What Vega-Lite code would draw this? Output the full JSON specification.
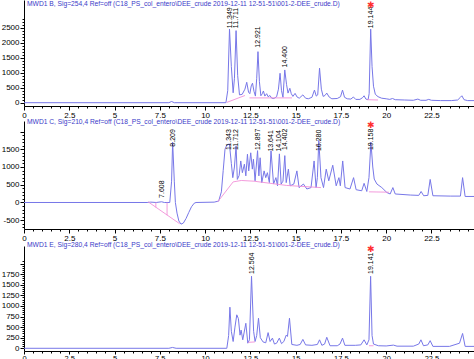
{
  "$schema": "https://vega.github.io/schema/vega-lite/v6.json",
  "padding": 0,
  "background": "white",
  "spacing": 0,
  "config": {
    "view": {"stroke": null},
    "font": "Liberation Sans",
    "axis": {"domainColor": "black", "tickColor": "black", "labelColor": "black", "labelFontSize": 8, "labelFont": "Liberation Sans", "grid": false, "title": null, "labelOverlap": false, "labelFlush": false},
    "title": {"fontSize": 6.7, "font": "Liberation Sans", "fontWeight": "normal", "color": "#3a3ac8", "anchor": "start", "frame": "group", "dx": 3}
  },
  "datasets": {
    "B": [
      {"t":0,"v":0},{"t":8.0,"v":0},{"t":8.15,"v":40},{"t":8.3,"v":0},{"t":11.15,"v":0},{"t":11.25,"v":400},{"t":11.349,"v":2450},{"t":11.45,"v":1200},{"t":11.55,"v":330},{"t":11.62,"v":800},{"t":11.711,"v":2400},{"t":11.8,"v":900},{"t":11.9,"v":260},{"t":12.05,"v":280},{"t":12.2,"v":450},{"t":12.3,"v":680},{"t":12.4,"v":350},{"t":12.47,"v":300},{"t":12.55,"v":560},{"t":12.62,"v":650},{"t":12.7,"v":380},{"t":12.78,"v":220},{"t":12.85,"v":800},{"t":12.921,"v":1700},{"t":13.0,"v":700},{"t":13.08,"v":230},{"t":13.16,"v":300},{"t":13.22,"v":390},{"t":13.3,"v":220},{"t":13.4,"v":300},{"t":13.48,"v":200},{"t":13.58,"v":240},{"t":13.68,"v":150},{"t":13.8,"v":140},{"t":13.95,"v":200},{"t":14.05,"v":450},{"t":14.14,"v":980},{"t":14.22,"v":400},{"t":14.3,"v":180},{"t":14.4,"v":1090},{"t":14.5,"v":600},{"t":14.58,"v":320},{"t":14.68,"v":480},{"t":14.76,"v":300},{"t":14.85,"v":210},{"t":14.97,"v":310},{"t":15.08,"v":190},{"t":15.2,"v":150},{"t":15.4,"v":260},{"t":15.55,"v":150},{"t":15.7,"v":130},{"t":15.9,"v":180},{"t":16.04,"v":420},{"t":16.14,"v":220},{"t":16.22,"v":260},{"t":16.32,"v":1150},{"t":16.42,"v":450},{"t":16.52,"v":210},{"t":16.62,"v":240},{"t":16.72,"v":320},{"t":16.85,"v":190},{"t":17.0,"v":130},{"t":17.3,"v":140},{"t":17.48,"v":200},{"t":17.59,"v":420},{"t":17.7,"v":180},{"t":17.85,"v":130},{"t":18.05,"v":120},{"t":18.19,"v":190},{"t":18.32,"v":110},{"t":18.55,"v":110},{"t":18.7,"v":170},{"t":18.78,"v":230},{"t":18.88,"v":120},{"t":19.0,"v":100},{"t":19.06,"v":300},{"t":19.144,"v":2450},{"t":19.22,"v":1200},{"t":19.3,"v":550},{"t":19.4,"v":280},{"t":19.55,"v":200},{"t":19.75,"v":150},{"t":20.0,"v":130},{"t":20.2,"v":110},{"t":20.35,"v":140},{"t":20.5,"v":100},{"t":21.0,"v":90},{"t":21.5,"v":80},{"t":21.75,"v":120},{"t":21.9,"v":80},{"t":22.2,"v":80},{"t":22.35,"v":110},{"t":22.5,"v":80},{"t":23.0,"v":70},{"t":23.6,"v":70},{"t":23.95,"v":90},{"t":24.1,"v":180},{"t":24.18,"v":230},{"t":24.3,"v":100},{"t":24.5,"v":70},{"t":24.85,"v":70}
    ],
    "Bpink": [
      {"seg":"a","t":11.2,"v":10},{"seg":"a","t":12.2,"v":240},
      {"seg":"b","t":12.45,"v":160},{"seg":"b","t":14.8,"v":160},
      {"seg":"c","t":18.95,"v":100},{"seg":"c","t":19.55,"v":90}
    ],
    "Blab": [
      {"t":11.349,"v":2450,"label":"11.349"},{"t":11.711,"v":2450,"label":"11.711"},{"t":12.921,"v":1800,"label":"12.921"},{"t":14.4,"v":1140,"label":"14.400"},{"t":19.144,"v":2450,"label":"19.144"}
    ],
    "Bstar": [{"t":19.15,"v":3420}],
    "C": [
      {"t":0,"v":0},{"t":6.8,"v":0},{"t":7.0,"v":10},{"t":7.3,"v":0},{"t":7.6,"v":20},{"t":7.75,"v":0},{"t":8.05,"v":0},{"t":8.15,"v":600},{"t":8.209,"v":1700},{"t":8.3,"v":600},{"t":8.36,"v":0},{"t":8.45,"v":-300},{"t":8.55,"v":-520},{"t":8.67,"v":-610},{"t":8.8,"v":-580},{"t":8.95,"v":-450},{"t":9.1,"v":-280},{"t":9.25,"v":-120},{"t":9.4,"v":-20},{"t":9.5,"v":0},{"t":10.5,"v":10},{"t":10.75,"v":40},{"t":10.9,"v":300},{"t":11.0,"v":900},{"t":11.1,"v":1500},{"t":11.2,"v":1620},{"t":11.343,"v":1650},{"t":11.45,"v":1100},{"t":11.53,"v":700},{"t":11.62,"v":1000},{"t":11.712,"v":1600},{"t":11.78,"v":650},{"t":11.88,"v":760},{"t":11.97,"v":1170},{"t":12.06,"v":840},{"t":12.17,"v":1080},{"t":12.25,"v":750},{"t":12.34,"v":1360},{"t":12.41,"v":890},{"t":12.52,"v":1400},{"t":12.61,"v":940},{"t":12.67,"v":1220},{"t":12.76,"v":610},{"t":12.897,"v":1460},{"t":12.97,"v":750},{"t":13.04,"v":1260},{"t":13.13,"v":560},{"t":13.26,"v":890},{"t":13.35,"v":700},{"t":13.44,"v":840},{"t":13.55,"v":560},{"t":13.641,"v":1460},{"t":13.78,"v":520},{"t":13.91,"v":700},{"t":14.0,"v":470},{"t":14.104,"v":1370},{"t":14.2,"v":520},{"t":14.3,"v":600},{"t":14.402,"v":1320},{"t":14.48,"v":560},{"t":14.6,"v":940},{"t":14.7,"v":470},{"t":14.9,"v":520},{"t":15.07,"v":890},{"t":15.19,"v":420},{"t":15.43,"v":520},{"t":15.62,"v":380},{"t":15.85,"v":420},{"t":16.02,"v":1170},{"t":16.13,"v":420},{"t":16.2,"v":700},{"t":16.28,"v":1750},{"t":16.4,"v":700},{"t":16.54,"v":420},{"t":16.69,"v":940},{"t":16.83,"v":610},{"t":17.05,"v":1050},{"t":17.24,"v":470},{"t":17.39,"v":700},{"t":17.47,"v":470},{"t":17.6,"v":1170},{"t":17.73,"v":420},{"t":18.0,"v":380},{"t":18.2,"v":700},{"t":18.34,"v":360},{"t":18.65,"v":330},{"t":18.78,"v":540},{"t":18.93,"v":310},{"t":19.05,"v":700},{"t":19.158,"v":1700},{"t":19.26,"v":1000},{"t":19.34,"v":660},{"t":19.49,"v":520},{"t":19.76,"v":420},{"t":20.04,"v":280},{"t":20.22,"v":240},{"t":20.37,"v":420},{"t":20.5,"v":240},{"t":21.33,"v":210},{"t":21.8,"v":200},{"t":21.93,"v":310},{"t":22.07,"v":190},{"t":22.3,"v":200},{"t":22.43,"v":650},{"t":22.58,"v":190},{"t":23.54,"v":180},{"t":24.1,"v":180},{"t":24.22,"v":700},{"t":24.36,"v":170},{"t":24.85,"v":170}
    ],
    "Cpink": [
      {"seg":"a","t":6.85,"v":20},{"seg":"a","t":8.6,"v":-600},
      {"seg":"d1","t":7.28,"v":0},{"seg":"d1","t":7.28,"v":-140},
      {"seg":"d2","t":7.9,"v":0},{"seg":"d2","t":7.9,"v":-360},
      {"seg":"b","t":10.7,"v":20},{"seg":"b","t":11.55,"v":580},{"seg":"b","t":12.0,"v":620},{"seg":"b","t":12.7,"v":600},{"seg":"b","t":14.5,"v":480},{"seg":"b","t":16.4,"v":420},
      {"seg":"c","t":19.05,"v":300},{"seg":"c","t":20.15,"v":290}
    ],
    "Clab": [
      {"t":7.608,"v":100,"label":"7.608"},{"t":8.209,"v":1545,"label":"8.209"},{"t":11.343,"v":1450,"label":"11.343"},{"t":11.712,"v":1450,"label":"11.712"},{"t":12.897,"v":1450,"label":"12.897"},{"t":13.641,"v":1405,"label":"13.641"},{"t":14.104,"v":1405,"label":"14.104"},{"t":14.402,"v":1450,"label":"14.402"},{"t":16.28,"v":1420,"label":"16.280"},{"t":19.158,"v":1450,"label":"19.158"}
    ],
    "Cstar": [{"t":19.15,"v":2296}],
    "E": [
      {"t":0,"v":0},{"t":8.0,"v":0},{"t":8.2,"v":20},{"t":8.4,"v":0},{"t":11.2,"v":0},{"t":11.3,"v":300},{"t":11.37,"v":970},{"t":11.45,"v":400},{"t":11.55,"v":160},{"t":11.65,"v":500},{"t":11.75,"v":790},{"t":11.84,"v":700},{"t":11.93,"v":310},{"t":11.99,"v":430},{"t":12.08,"v":200},{"t":12.25,"v":590},{"t":12.36,"v":120},{"t":12.45,"v":200},{"t":12.564,"v":1700},{"t":12.68,"v":400},{"t":12.76,"v":160},{"t":12.85,"v":300},{"t":12.95,"v":710},{"t":13.05,"v":250},{"t":13.2,"v":150},{"t":13.35,"v":130},{"t":13.48,"v":370},{"t":13.59,"v":160},{"t":13.72,"v":240},{"t":13.83,"v":100},{"t":13.95,"v":120},{"t":14.1,"v":240},{"t":14.22,"v":110},{"t":14.35,"v":160},{"t":14.48,"v":310},{"t":14.55,"v":280},{"t":14.66,"v":710},{"t":14.79,"v":90},{"t":15.07,"v":70},{"t":15.25,"v":90},{"t":15.4,"v":210},{"t":15.55,"v":80},{"t":15.9,"v":70},{"t":16.2,"v":90},{"t":16.32,"v":200},{"t":16.45,"v":70},{"t":16.6,"v":100},{"t":16.72,"v":260},{"t":16.9,"v":60},{"t":17.3,"v":60},{"t":17.45,"v":100},{"t":17.59,"v":240},{"t":17.72,"v":70},{"t":18.3,"v":70},{"t":18.6,"v":80},{"t":18.78,"v":200},{"t":18.93,"v":80},{"t":19.05,"v":200},{"t":19.141,"v":1700},{"t":19.22,"v":300},{"t":19.3,"v":100},{"t":19.57,"v":60},{"t":20.0,"v":55},{"t":20.4,"v":75},{"t":20.6,"v":50},{"t":21.5,"v":50},{"t":21.8,"v":100},{"t":21.92,"v":200},{"t":22.06,"v":60},{"t":22.3,"v":80},{"t":22.43,"v":180},{"t":22.58,"v":45},{"t":23.5,"v":45},{"t":24.05,"v":120},{"t":24.22,"v":350},{"t":24.36,"v":45},{"t":24.85,"v":45}
    ],
    "Epink": [
      {"seg":"a","t":12.38,"v":140},{"seg":"a","t":12.75,"v":150},
      {"seg":"b","t":19.05,"v":60},{"seg":"b","t":19.3,"v":60}
    ],
    "Elab": [
      {"t":12.564,"v":1730,"label":"12.564"},{"t":19.141,"v":1730,"label":"19.141"}
    ],
    "Estar": [{"t":19.15,"v":2414}]
  },
  "vconcat": [
    {
      "width": 450, "height": 106,
      "title": {"text": "MWD1 B, Sig=254,4 Ref=off (C18_PS_col_entero\\DEE_crude 2019-12-11 12-51-51\\001-2-DEE_crude.D)", "offset": -8, "fontSize": 6.7, "font": "Liberation Sans", "color": "#3a3ac8"},
      "encoding": {
        "x": {"field": "t", "type": "quantitative", "scale": {"domain": [0, 24.85], "nice": false, "zero": false},
          "axis": {"values": [0,0.5,1,1.5,2,2.5,3,3.5,4,4.5,5,5.5,6,6.5,7,7.5,8,8.5,9,9.5,10,10.5,11,11.5,12,12.5,13,13.5,14,14.5,15,15.5,16,16.5,17,17.5,18,18.5,19,19.5,20,20.5,21,21.5,22,22.5,23,23.5,24,24.5],
            "labelExpr": "datum.value % 2.5 === 0 ? '' + datum.value : ''",
            "tickSize": {"condition": {"test": "datum.value % 2.5 === 0", "value": 4}, "value": 2}, "labelPadding": 1}},
        "y": {"field": "v", "type": "quantitative", "scale": {"domain": [-110, 3420], "nice": false, "zero": false},
          "axis": {"values": [0,100,200,300,400,500,600,700,800,900,1000,1100,1200,1300,1400,1500,1600,1700,1800,1900,2000,2100,2200,2300,2400,2500,2600,2700,2800],
            "labelExpr": "datum.value % 500 === 0 && datum.value <= 2500 ? '' + datum.value : ''",
            "tickSize": {"condition": {"test": "datum.value % 500 === 0", "value": 4}, "value": 2}, "labelPadding": 1, "minExtent": 24, "maxExtent": 24}}
      },
      "layer": [
        {"data": {"name": "B"}, "mark": {"type": "line", "color": "#7777e8", "strokeWidth": 1, "clip": true}},
        {"data": {"name": "Bpink"}, "mark": {"type": "line", "color": "#f290d8", "strokeWidth": 0.9}, "encoding": {"detail": {"field": "seg"}}},
        {"data": {"name": "Blab"}, "mark": {"type": "text", "angle": 270, "align": "left", "baseline": "middle", "fontSize": 7, "dx": 1, "color": "black"}, "encoding": {"text": {"field": "label"}}},
        {"data": {"name": "Bstar"}, "mark": {"type": "text", "text": "✱", "font": "DejaVu Sans", "fontSize": 9, "color": "#ff3030", "dy": 5, "baseline": "middle"}}
      ]
    },
    {
      "width": 450, "height": 108,
      "title": {"text": "MWD1 C, Sig=210,4 Ref=off (C18_PS_col_entero\\DEE_crude 2019-12-11 12-51-51\\001-2-DEE_crude.D)", "offset": -5, "fontSize": 6.7, "font": "Liberation Sans", "color": "#3a3ac8"},
      "encoding": {
        "x": {"field": "t", "type": "quantitative", "scale": {"domain": [0, 24.85], "nice": false, "zero": false},
          "axis": {"values": [0,0.5,1,1.5,2,2.5,3,3.5,4,4.5,5,5.5,6,6.5,7,7.5,8,8.5,9,9.5,10,10.5,11,11.5,12,12.5,13,13.5,14,14.5,15,15.5,16,16.5,17,17.5,18,18.5,19,19.5,20,20.5,21,21.5,22,22.5,23,23.5,24,24.5],
            "labelExpr": "datum.value % 2.5 === 0 ? '' + datum.value : ''",
            "tickSize": {"condition": {"test": "datum.value % 2.5 === 0", "value": 4}, "value": 2}, "labelPadding": 1}},
        "y": {"field": "v", "type": "quantitative", "scale": {"domain": [-747, 2296], "nice": false, "zero": false},
          "axis": {"values": [-700,-600,-500,-400,-300,-200,-100,0,100,200,300,400,500,600,700,800,900,1000,1100,1200,1300,1400,1500,1600,1700,1800,1900,2000],
            "labelExpr": "datum.value % 500 === 0 && datum.value <= 1500 ? '' + datum.value : ''",
            "tickSize": {"condition": {"test": "datum.value % 500 === 0", "value": 4}, "value": 2}, "labelPadding": 1, "minExtent": 24, "maxExtent": 24}}
      },
      "layer": [
        {"data": {"name": "C"}, "mark": {"type": "line", "color": "#7777e8", "strokeWidth": 1, "clip": true}},
        {"data": {"name": "Cpink"}, "mark": {"type": "line", "color": "#f290d8", "strokeWidth": 0.9}, "encoding": {"detail": {"field": "seg"}}},
        {"data": {"name": "Clab"}, "mark": {"type": "text", "angle": 270, "align": "left", "baseline": "middle", "fontSize": 7, "dx": 1, "color": "black"}, "encoding": {"text": {"field": "label"}}},
        {"data": {"name": "Cstar"}, "mark": {"type": "text", "text": "✱", "font": "DejaVu Sans", "fontSize": 9, "color": "#ff3030", "dy": 4, "baseline": "middle"}}
      ]
    },
    {
      "width": 450, "height": 105,
      "title": {"text": "MWD1 E, Sig=280,4 Ref=off (C18_PS_col_entero\\DEE_crude 2019-12-11 12-51-51\\001-2-DEE_crude.D)", "offset": -4, "fontSize": 6.7, "font": "Liberation Sans", "color": "#3a3ac8"},
      "encoding": {
        "x": {"field": "t", "type": "quantitative", "scale": {"domain": [0, 24.85], "nice": false, "zero": false},
          "axis": {"values": [0,0.5,1,1.5,2,2.5,3,3.5,4,4.5,5,5.5,6,6.5,7,7.5,8,8.5,9,9.5,10,10.5,11,11.5,12,12.5,13,13.5,14,14.5,15,15.5,16,16.5,17,17.5,18,18.5,19,19.5,20,20.5,21,21.5,22,22.5,23,23.5,24,24.5],
            "labelExpr": "datum.value % 2.5 === 0 ? '' + datum.value : ''",
            "tickSize": {"condition": {"test": "datum.value % 2.5 === 0", "value": 3}, "value": 2}, "labelPadding": 0, "labelFontSize": 7.5}},
        "y": {"field": "v", "type": "quantitative", "scale": {"domain": [-64, 2414], "nice": false, "zero": false},
          "axis": {"values": [0,50,100,150,200,250,300,350,400,450,500,550,600,650,700,750,800,850,900,950,1000,1050,1100,1150,1200,1250,1300,1350,1400,1450,1500,1550,1600,1650,1700,1750,1800,1850,1900,1950,2000,2050],
            "labelExpr": "datum.value % 250 === 0 && datum.value <= 1750 ? '' + datum.value : ''",
            "tickSize": {"condition": {"test": "datum.value % 250 === 0", "value": 4}, "value": 2}, "labelPadding": 1, "minExtent": 24, "maxExtent": 24}}
      },
      "layer": [
        {"data": {"name": "E"}, "mark": {"type": "line", "color": "#7777e8", "strokeWidth": 1, "clip": true}},
        {"data": {"name": "Epink"}, "mark": {"type": "line", "color": "#f290d8", "strokeWidth": 0.9}, "encoding": {"detail": {"field": "seg"}}},
        {"data": {"name": "Elab"}, "mark": {"type": "text", "angle": 270, "align": "left", "baseline": "middle", "fontSize": 7, "dx": 1, "color": "black"}, "encoding": {"text": {"field": "label"}}},
        {"data": {"name": "Estar"}, "mark": {"type": "text", "text": "✱", "font": "DejaVu Sans", "fontSize": 9, "color": "#ff3030", "dy": 3, "baseline": "middle"}}
      ]
    }
  ]
}
